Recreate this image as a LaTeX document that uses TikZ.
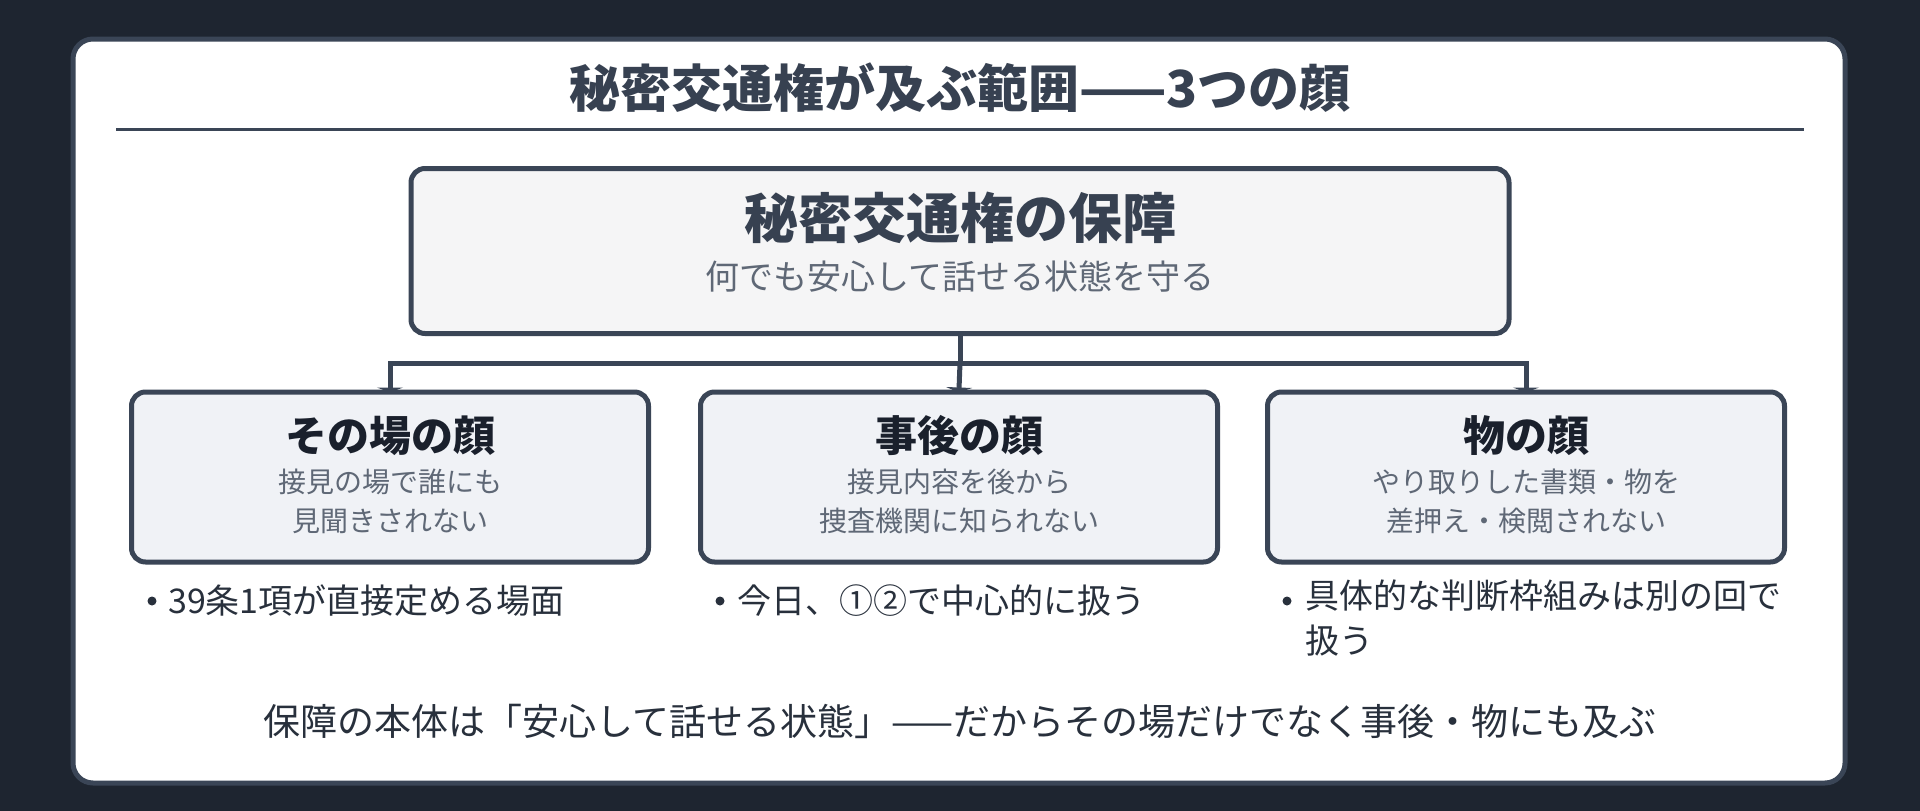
\documentclass[tikz,border=0pt]{standalone}
\usepackage{fontspec}
\setmainfont{Noto Sans CJK JP}
\usepackage{tikz}
\usetikzlibrary{arrows.meta,positioning}

\definecolor{bgdark}{RGB}{30,37,48}
\definecolor{frame}{RGB}{58,69,86}
\definecolor{mainfill}{RGB}{245,245,246}
\definecolor{facefill}{RGB}{240,242,246}
\definecolor{headtext}{RGB}{55,65,81}
\definecolor{facetext}{RGB}{26,32,44}
\definecolor{subtext}{RGB}{95,104,118}
\definecolor{notetext}{RGB}{40,48,60}

\newcommand{\fs}[1]{\fontsize{#1}{1.25\dimexpr#1pt\relax}\selectfont}

\begin{document}
\begin{tikzpicture}[x=1pt,y=-1pt, inner sep=0pt,
	box/.style={draw=frame, line width=5pt, rounded corners=14pt},
	face/.style={box, fill=facefill, minimum width=517pt, minimum height=170pt},
	facetitle/.style={font=\fs{42}\bfseries, text=facetext},
	facesub/.style={font=\fs{28}, text=subtext, align=center},
	note/.style={font=\fs{34}, text=notetext, anchor=west, align=left},
	dot/.style={circle, fill=notetext, minimum size=9pt},
	link/.style={draw=frame, line width=5pt},
	arr/.style={link, -{Triangle[width=26pt,length=5pt]}, shorten >=-3pt}]
	% background and panel
	\fill[bgdark] (0,0) rectangle (1920,811);
	\draw[frame, line width=5pt, fill=white, rounded corners=20pt] (73,39) rectangle (1845,783);

	\node[font=\fs{51}\bfseries, text=headtext] (title) at (960,88) {秘密交通権が及ぶ範囲——3つの顔};
	\draw[frame, line width=3pt] (116,129) -- (1804,129);

	% main box
	\node[box, fill=mainfill, minimum width=1098pt, minimum height=165pt] (main) at (960,251) {};
	\node[font=\fs{54}\bfseries, text=headtext] (maintitle) at (960,218) {秘密交通権の保障};
	\node[font=\fs{34}, text=subtext] (mainsub) at (960,277) {何でも安心して話せる状態を守る};

	% three faces
	\node[face] (f1) at (390,477) {};
	\node[face] (f2) at (959,477) {};
	\node[face] (f3) at (1526,477) {};

	\node[facetitle] (f1t) at (390,436) {その場の顔};
	\node[facesub] (f1s) at (390,501) {接見の場で誰にも\\[4pt]見聞きされない};
	\node[facetitle] (f2t) at (959,436) {事後の顔};
	\node[facesub] (f2s) at (959,501) {接見内容を後から\\[4pt]捜査機関に知られない};
	\node[facetitle] (f3t) at (1526,436) {物の顔};
	\node[facesub] (f3s) at (1526,501) {やり取りした書類・物を\\[4pt]差押え・検閲されない};

	% connectors
	\coordinate (bus) at (960,363);
	\draw[link] (main.south) -- (bus);
	\draw[arr] (bus) -| (f1.north);
	\draw[arr] (bus) -- (f2.north);
	\draw[arr] (bus) -| (f3.north);

	% notes
	\node[dot] (d1) at (152,601) {};
	\node[note] (n1) at (168,601) {39条1項が直接定める場面};
	\node[dot] (d2) at (720,601) {};
	\node[note] (n2) at (737,601) {今日、①②で中心的に扱う};
	\node[dot] (d3) at (1287,601) {};
	\node[note, anchor=north west] (n3) at (1305,580) {具体的な判断枠組みは別の回で\\[2pt]扱う};

	\node[font=\fs{37}, text=notetext] (bottom) at (960,721) {保障の本体は「安心して話せる状態」——だからその場だけでなく事後・物にも及ぶ};
\end{tikzpicture}
\end{document}
